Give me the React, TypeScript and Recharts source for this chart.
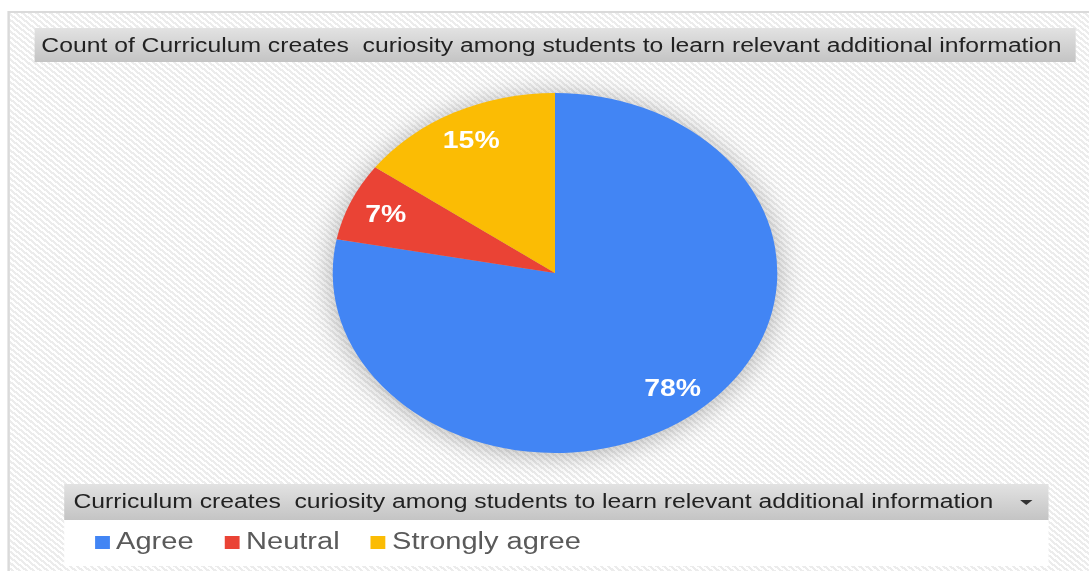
import { Legend, Pie, PieChart } from 'recharts';

const categories = ['Agree', 'Neutral', 'Strongly agree'];
const counts = [78, 7, 15];
const colors = ['#4285F4', '#EA4335', '#FBBC04'];
const chartTitle = 'Count of Curriculum creates  curiosity among students to learn relevant additional information';
const legendTitle = 'Curriculum creates  curiosity among students to learn relevant additional information';

// the source screenshot is stretched sideways, so build at natural size and stretch the lot
const SX = 1.235;
const W = Math.round(1089 / SX);
const H = 571;
const RAD = Math.PI / 180;

const data = categories.map((name, i) => ({ name, value: counts[i], fill: colors[i] }));

const stripes = 'repeating-linear-gradient(45deg, #ffffff 0px, #ffffff 2px, #ececec 2px, #ececec 4px)';
const barBg = 'linear-gradient(#e2e2e2, #c4c4c4)';
const font = '"Liberation Sans", Arial, sans-serif';

const renderLabel = (p: any) => {
  const r = p.outerRadius * 0.83;
  const x = p.cx + r * Math.cos(-p.midAngle * RAD);
  const y = p.cy + r * Math.sin(-p.midAngle * RAD);
  return (
    <text
      x={x}
      y={y}
      fill="#fff"
      textAnchor="middle"
      dominantBaseline="central"
      fontFamily={font}
      fontWeight="bold"
      fontSize={23}
    >
      {`${Math.round(p.percent * 100)}%`}
    </text>
  );
};

const LegendBox = ({ payload }: any) => (
  <div style={{ fontFamily: font }}>
    <div
      style={{
        position: 'relative',
        height: 35.5,
        lineHeight: '35.5px',
        background: barBg,
        color: '#222',
        fontSize: 20,
        paddingLeft: 8,
        whiteSpace: 'pre',
      }}
    >
      {legendTitle}
      <div
        style={{
          position: 'absolute',
          right: 13,
          top: 16,
          width: 0,
          height: 0,
          borderLeft: '5px solid transparent',
          borderRight: '5px solid transparent',
          borderTop: '5px solid #333',
        }}
      />
    </div>
    <div
      style={{
        display: 'flex',
        height: 46.5,
        boxSizing: 'border-box',
        paddingTop: 8,
        paddingLeft: 25,
        background: '#fff',
        fontSize: 23.5,
        lineHeight: '26px',
        color: '#5a5a5a',
      }}
    >
      {(payload || []).map((entry: any) => (
        <div key={entry.value} style={{ display: 'flex', alignItems: 'center', marginRight: 25, height: 26 }}>
          <span
            style={{ display: 'inline-block', width: 12, height: 13, background: entry.color, marginRight: 5.5, marginTop: 3 }}
          />
          <span>{entry.value}</span>
        </div>
      ))}
    </div>
  </div>
);

export default function App() {
  return (
    <div style={{ position: 'absolute', left: 0, top: 0, width: 1089, height: H, overflow: 'hidden', background: '#fff' }}>
      <style>{'.recharts-pie{filter:drop-shadow(0 2px 12px rgba(0,0,0,0.3))}'}</style>
      <div style={{ position: 'absolute', left: 0, top: 0, width: W, height: H, transform: `scaleX(${SX})`, transformOrigin: '0 0' }}>
        <div
          style={{
            position: 'absolute',
            left: 5.7,
            top: 11,
            width: W,
            height: H,
            border: '2px solid #dadada',
            background: stripes,
          }}
        />
        <div
          style={{
            position: 'absolute',
            left: 27.5,
            top: 28,
            width: 843,
            height: 34,
            lineHeight: '34px',
            background: barBg,
            fontFamily: font,
            fontSize: 20,
            color: '#222',
            paddingLeft: 6,
            boxSizing: 'border-box',
            whiteSpace: 'pre',
          }}
        >
          {chartTitle}
        </div>
        <div style={{ position: 'absolute', left: 0, top: 0 }}>
          <PieChart width={W} height={H} margin={{ top: 0, right: 0, bottom: 0, left: 0 }}>
            <Pie
              data={data}
              dataKey="value"
              nameKey="name"
              cx={449.4}
              cy={273}
              outerRadius={180}
              startAngle={90}
              endAngle={-270}
              stroke="none"
              label={renderLabel}
              labelLine={false}
              isAnimationActive={false}
            />
            <Legend
              verticalAlign="middle"
              align="center"
              content={LegendBox}
              wrapperStyle={{ position: 'absolute', left: 51.5, top: 484, width: 797 }}
            />
          </PieChart>
        </div>
      </div>
    </div>
  );
}
